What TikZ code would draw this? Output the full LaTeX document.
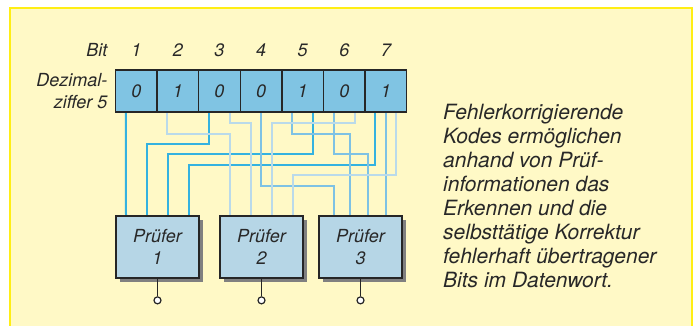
\documentclass[tikz,border=0pt]{standalone}
\usepackage{fontspec}
\setmainfont{TeX Gyre Heros}
\usetikzlibrary{positioning,shadows,backgrounds}

\definecolor{paper}{RGB}{255,249,198}
\definecolor{rim}{RGB}{255,238,20}
\definecolor{regfill}{RGB}{128,196,227}
\definecolor{chkfill}{RGB}{182,214,230}
\definecolor{wdark}{RGB}{52,178,224}
\definecolor{wmid}{RGB}{126,194,228}
\definecolor{wlight}{RGB}{186,218,234}
\definecolor{ink}{RGB}{40,40,40}

\begin{document}
\begin{tikzpicture}[x=1pt,y=-1pt,
  lbl/.style={font=\itshape\fontsize{18}{22}\selectfont,text=ink},
  cell/.style={lbl,draw=black!85,line width=1.5pt,fill=regfill,minimum width=41.6pt,minimum height=42pt,inner sep=0pt},
  checker/.style={lbl,draw=black!85,line width=1.5pt,fill=chkfill,minimum width=83pt,minimum height=62pt,align=center,
    drop shadow={shadow xshift=4pt,shadow yshift=-4pt,fill=black!50,opacity=1}},
  outlet/.style={circle,draw=black!85,fill=white,line width=1.2pt,inner sep=0pt,minimum size=7pt},
  wire/.style={line width=2pt}]

\useasboundingbox (0,0) rectangle (698,326);

% data word with bit numbers
\node[lbl,anchor=east] (bit) at (111,50) {Bit};
\node[lbl,anchor=east,align=right] (dez) at (111,91) {Dezimal-\\ziffer 5};
\foreach \v [count=\i] in {0,1,0,0,1,0,1} {
  \node[cell] (c\i) at (94.7+41.6*\i,91) {\v};
  \node[lbl] (n\i) at (c\i |- 0,50) {\i};
}

% the three checkers
\node[checker] (p1) at (157.5,247) {Prüfer\\1};
\node[checker] (p2) at (261.5,247) {Prüfer\\2};
\node[checker] (p3) at (360.5,247) {Prüfer\\3};

\foreach \p in {1,2,3} {
  \node[outlet,below=17.5pt of p\p] (o\p) {};
  \draw[line width=1.2pt,black!85] (p\p) -- (o\p);
}

\node[anchor=north west,align=left,text=ink,inner sep=0pt,
  font=\itshape\fontsize{21}{24}\selectfont] (info) at (443,104)
  {Fehlerkorrigierende\\Kodes ermöglichen\\anhand von Prüf-\\informationen das\\Erkennen und die\\selbsttätige Korrektur\\fehlerhaft übertragener\\Bits im Datenwort.};

\begin{scope}[on background layer]
\fill[white] (0,0) rectangle (698,326);
\fill[paper] (10,8) rectangle (692,330);
\draw[rim,line width=1.2pt] (10,330) -- (10,8) -- (692,8) -- (692,330);

% checker 1: bits 1,3,5,7
\draw[wire,wdark] ([xshift=-10.5pt]c1.south) -- ([xshift=-31.5pt]p1.north);
\draw[wire,wdark] ([xshift=-10.5pt]c3.south) -- ++(0,31) -| ([xshift=-10.5pt]p1.north);
\draw[wire,wdark] ([xshift=10.5pt]c5.south) -- ++(0,41) -| ([xshift=10.5pt]p1.north);
\draw[wire,wdark] ([xshift=-10.5pt]c7.south) -- ++(0,52) -| ([xshift=31.5pt]p1.north);

% checker 3: bits 4,5,6,7
\draw[wire,wmid] (c4.south) -- ++(0,73) -| ([xshift=-27pt]p3.north);
\draw[wire,wmid] ([xshift=-10.5pt]c5.south) -- ++(0,21) -| ([xshift=-10.5pt]p3.north);
\draw[wire,wmid] ([xshift=-10.5pt]c6.south) -- ++(0,41) -| ([xshift=7pt]p3.north);
\draw[wire,wmid] (c7.south) -- (p3.north -| c7.south);

% checker 2: bits 2,3,6,7
\draw[wire,wlight] ([xshift=-10.5pt]c2.south) -- ++(0,21) -| ([xshift=-31.5pt]p2.north);
\draw[wire,wlight] ([xshift=10.5pt]c3.south) -- ++(0,10) -| ([xshift=-10.5pt]p2.north);
\draw[wire,wlight] ([xshift=10.5pt]c6.south) -- ++(0,10) -| ([xshift=10.5pt]p2.north);
\draw[wire,wlight] ([xshift=10.5pt]c7.south) -- ++(0,62) -| ([xshift=31.5pt]p2.north);
\end{scope}

\end{tikzpicture}
\end{document}
